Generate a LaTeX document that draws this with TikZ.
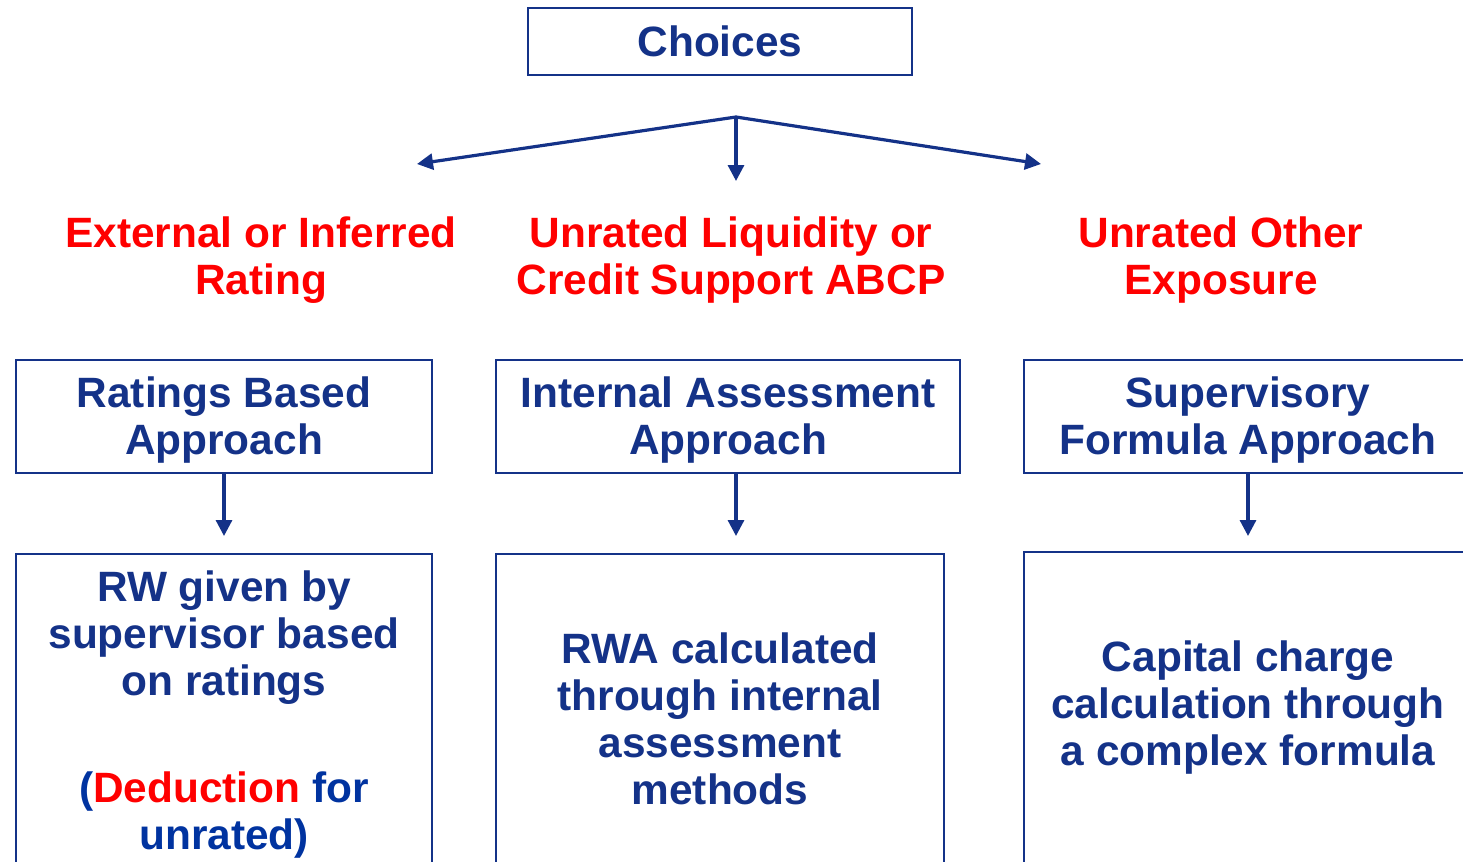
\documentclass[tikz,border=0pt]{standalone}
\usepackage{fontspec}
\setmainfont{Liberation Sans}
\usetikzlibrary{arrows.meta}
\definecolor{navy}{RGB}{20,50,136}
\definecolor{brightblue}{RGB}{0,51,160}
\definecolor{redlbl}{RGB}{255,0,0}
\begin{document}
\begin{tikzpicture}[x=0.5pt,y=-0.5pt,
  txt/.style={font=\fontsize{21.2}{23.5}\selectfont\bfseries, align=center, inner sep=0pt},
  bluetxt/.style={txt, text=navy},
  redtxt/.style={txt, text=redlbl},
  boxstyle/.style={draw=navy, line width=1pt, inner sep=0pt, rectangle},
  arr/.style={draw=navy, line width=1.6pt, -{Triangle[length=8pt,width=8pt]}}
]
\clip (0,0) rectangle (1463,862);
\fill[white] (0,0) rectangle (1463,862);

% top box
\node[boxstyle, minimum width=192pt, minimum height=33.5pt] (choices) at (720,41.5) {};
\node[bluetxt] (choicestxt) at (720,41.5) {Choices};

% branching arrows
\coordinate (apex) at (736,117);
\coordinate (tipL) at (417,164);
\coordinate (tipM) at (736,181);
\coordinate (tipR) at (1041,164);
\draw[arr] (apex) -- (tipL);
\draw[arr] (apex) -- (tipM);
\draw[arr] (apex) -- (tipR);

% red labels
\node[redtxt] (lblA) at (261,260) {External or Inferred\\Rating};
\node[redtxt] (lblB) at (731,260) {Unrated Liquidity or\\Credit Support ABCP};
\node[redtxt] (lblC) at (1221,260) {Unrated Other\\Exposure};

% second row boxes
\node[boxstyle, minimum width=208pt, minimum height=56.5pt] (rba) at (224,416.5) {};
\node[bluetxt] (rbatxt) at (224,420) {Ratings Based\\Approach};
\node[boxstyle, minimum width=232pt, minimum height=56.5pt] (iaa) at (728,416.5) {};
\node[bluetxt] (iaatxt) at (728,420) {Internal Assessment\\Approach};
\node[boxstyle, minimum width=224pt, minimum height=56.5pt] (sfa) at (1248,416.5) {};
\node[bluetxt] (sfatxt) at (1248,420) {Supervisory\\Formula Approach};

% down arrows
\coordinate (endA) at (224,536);
\coordinate (endB) at (736,536);
\coordinate (endC) at (1248,536);
\draw[arr] (rba.south -| endA) -- (endA);
\draw[arr] (iaa.south -| endB) -- (endB);
\draw[arr] (sfa.south -| endC) -- (endC);

% third row boxes
\node[boxstyle, minimum width=208pt, minimum height=203.5pt, anchor=north] (rw) at (224,553) {};
\node[bluetxt] (rwtxt) at (224,638) {RW given by\\supervisor based\\on ratings};
\node[txt, text=brightblue] (rwded) at (224,815) {(\textcolor{redlbl}{Deduction} for\\unrated)};
\node[boxstyle, minimum width=224pt, minimum height=203.5pt, anchor=north] (rwa) at (720,553) {};
\node[bluetxt] (rwatxt) at (720,719) {RWA calculated\\through internal\\assessment\\methods};
\node[boxstyle, minimum width=224pt, minimum height=204.5pt, anchor=north] (cap) at (1248,551) {};
\node[bluetxt] (captxt) at (1248,708) {Capital charge\\calculation through\\a complex formula};
\end{tikzpicture}
\end{document}
